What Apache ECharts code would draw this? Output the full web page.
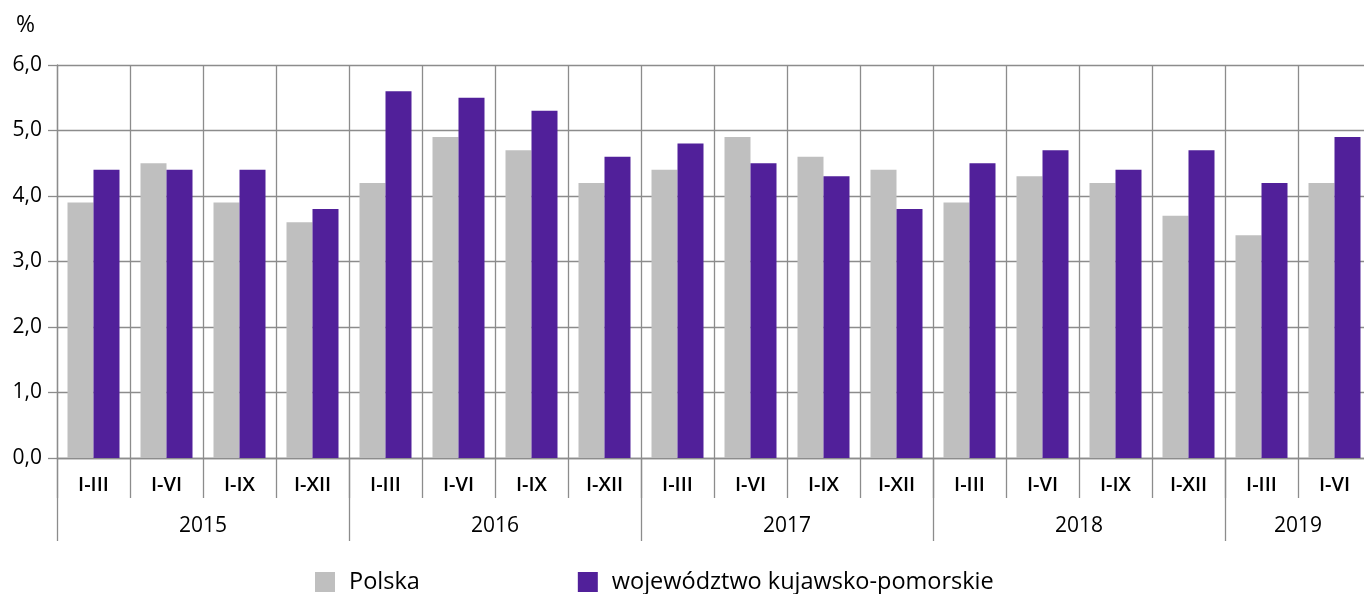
<!DOCTYPE html>
<html>
<head>
<meta charset="utf-8">
<script src="https://cdn.jsdelivr.net/npm/echarts@6/dist/echarts.min.js"></script>
<style>
html,body{margin:0;padding:0;background:#fff;}
#chart{width:1364px;height:594px;}
</style>
</head>
<body>
<div id="chart"></div>
<script>
var categories = ['I-III','I-VI','I-IX','I-XII','I-III','I-VI','I-IX','I-XII','I-III','I-VI','I-IX','I-XII','I-III','I-VI','I-IX','I-XII','I-III','I-VI'];
var polska = [3.9, 4.5, 3.9, 3.6, 4.2, 4.9, 4.7, 4.2, 4.4, 4.9, 4.6, 4.4, 3.9, 4.3, 4.2, 3.7, 3.4, 4.2];
var kujawskoPomorskie = [4.4, 4.4, 4.4, 3.8, 5.6, 5.5, 5.3, 4.6, 4.8, 4.5, 4.3, 3.8, 4.5, 4.7, 4.4, 4.7, 4.2, 4.9];
// year axis: one entry per category boundary (19 boundaries), labels placed at group centres
var yearAxis = ['', '', '2015', '', '', '', '2016', '', '', '', '2017', '', '', '', '2018', '', '', '2019', ''];
var yearSeparators = [0, 4, 8, 12, 16, 18];
var seriesNames = ['Polska', 'województwo kujawsko-pomorskie'];
var yTicks = [0, 1, 2, 3, 4, 5, 6];

var FONT = 'Open Sans';
var LINE = '#8c8c8c';
var chart = echarts.init(document.getElementById('chart'), null, {renderer: 'canvas'});
chart.setOption({
  animation: false,
  backgroundColor: '#fff',
  textStyle: {fontFamily: FONT},
  graphic: [{
    type: 'text', left: 16, top: 14,
    style: {text: '%', fontSize: 23, fontFamily: FONT, fill: '#000'}
  }],
  legend: {
    top: 570, left: 315, padding: 0,
    itemWidth: 20, itemHeight: 20, itemGap: 158,
    icon: 'rect',
    textStyle: {fontFamily: FONT, fontSize: 23.5, lineHeight: 20, color: '#000', padding: [0, 0, 0, 9]},
    data: seriesNames
  },
  grid: {left: 57, top: 65, bottom: 136, right: -7, containLabel: false, outerBoundsMode: 'none'},
  xAxis: [{
    type: 'category',
    data: categories,
    position: 'bottom',
    axisLine: {show: true, lineStyle: {color: LINE, width: 1.3}},
    axisTick: {show: true, interval: 0, length: 40, lineStyle: {color: LINE, width: 1.3}},
    splitLine: {show: true, interval: 0, lineStyle: {color: LINE, width: 1.3}},
    axisLabel: {interval: 0, margin: 17, color: '#000', fontFamily: FONT, fontSize: 20, fontWeight: 600}
  }, {
    type: 'category',
    data: yearAxis,
    position: 'bottom',
    boundaryGap: false,
    axisLine: {show: false},
    axisTick: {show: true, length: 83, interval: function (i) { return yearSeparators.indexOf(i) >= 0; }, lineStyle: {color: LINE, width: 1.3}},
    splitLine: {show: false},
    axisLabel: {interval: function (i, v) { return v !== ''; }, margin: 58, color: '#000', fontFamily: FONT, fontSize: 21}
  }],
  yAxis: {
    type: 'value',
    min: yTicks[0], max: yTicks[yTicks.length - 1], interval: 1,
    axisLine: {show: true, lineStyle: {color: LINE, width: 1.3}},
    axisTick: {show: true, length: 9, lineStyle: {color: LINE, width: 1.3}},
    splitLine: {show: true, lineStyle: {color: LINE, width: 1.3}},
    axisLabel: {margin: 15, color: '#000', fontFamily: FONT, fontSize: 21,
      formatter: function (v) { return v.toFixed(1).replace('.', ','); }}
  },
  series: [{
    name: seriesNames[0], type: 'bar', xAxisIndex: 0, data: polska,
    barWidth: 26, barGap: '0%', itemStyle: {color: '#bfbfbf'}
  }, {
    name: seriesNames[1], type: 'bar', xAxisIndex: 0, data: kujawskoPomorskie,
    barWidth: 26, barGap: '0%', itemStyle: {color: '#51209a'}
  }]
});
</script>
</body>
</html>
